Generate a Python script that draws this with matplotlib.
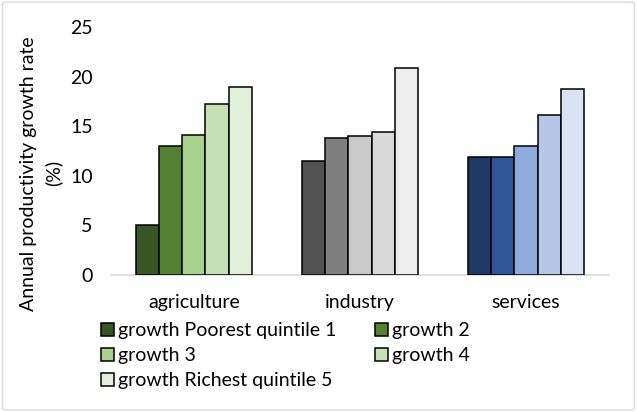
import numpy as np
import matplotlib.pyplot as plt
from matplotlib.patches import Patch, FancyBboxPatch

plt.rcParams['font.family'] = ['Lato', 'DejaVu Sans']

# data
sectors = ['agriculture', 'industry', 'services']
series = ['growth Poorest quintile 1', 'growth 2', 'growth 3', 'growth 4',
          'growth Richest quintile 5']
agriculture = [5.0, 13.0, 14.1, 17.2, 19.0]
industry = [11.5, 13.8, 14.0, 14.4, 20.9]
services = [11.9, 11.9, 13.0, 16.1, 18.8]

green = ['#375623', '#548235', '#A9D18E', '#C5E0B4', '#E2F0D9']
grey = ['#525252', '#7F7F7F', '#C9C9C9', '#D9D9D9', '#EDEDED']
blue = ['#203864', '#2F5597', '#8FAADC', '#B4C7E7', '#DAE3F3']

fs = 14

fig = plt.figure(figsize=(6.37, 4.12), dpi=100)
ax = fig.add_axes([0.174, 0.333, 0.782, 0.601])

w = 0.14
x = np.arange(len(sectors))
groups = [agriculture, industry, services]
palettes = [green, grey, blue]
for g, (vals, cols) in enumerate(zip(groups, palettes)):
    for i, v in enumerate(vals):
        ax.bar(x[g] + (i - 2) * w, v, width=w, color=cols[i],
               edgecolor='black', linewidth=1.1, zorder=3)

ax.set_xlim(-0.5, 2.5)
ax.set_ylim(0, 25)
ax.set_yticks([0, 5, 10, 15, 20, 25])
ax.set_xticks(x)
ax.set_xticklabels(sectors)
ax.tick_params(axis='both', length=0, labelsize=fs, colors='black')
ax.tick_params(axis='y', pad=13)
ax.tick_params(axis='x', pad=14)
for s in ['top', 'right', 'left']:
    ax.spines[s].set_visible(False)
ax.spines['bottom'].set_color('#D9D9D9')
ax.spines['bottom'].set_linewidth(1.2)
ax.set_ylabel('Annual productivity growth rate\n(%)', fontsize=fs,
              linespacing=1.5)
ax.yaxis.set_label_coords(-0.098, 0.41)

# legend uses the agriculture colours, Excel fills row by row
handles = [Patch(facecolor=green[i], edgecolor='black', linewidth=1.1)
           for i in range(5)]
order = [0, 2, 4, 1, 3]
fig.legend([handles[i] for i in order], [series[i] for i in order],
           ncol=2, loc='upper left', bbox_to_anchor=(0.144, 0.242),
           frameon=False, fontsize=fs, handlelength=0.65,
           handleheight=0.65, handletextpad=0.2, columnspacing=2.0,
           labelspacing=0.42, borderpad=0)

# chart area border
fig.patches.append(FancyBboxPatch((0.004, 0.005), 0.992, 0.99,
                                  boxstyle='round,pad=0,rounding_size=0.006',
                                  transform=fig.transFigure, fill=False,
                                  edgecolor='#D9D9D9', linewidth=1.0))

fig.savefig('out.png', dpi=100)
